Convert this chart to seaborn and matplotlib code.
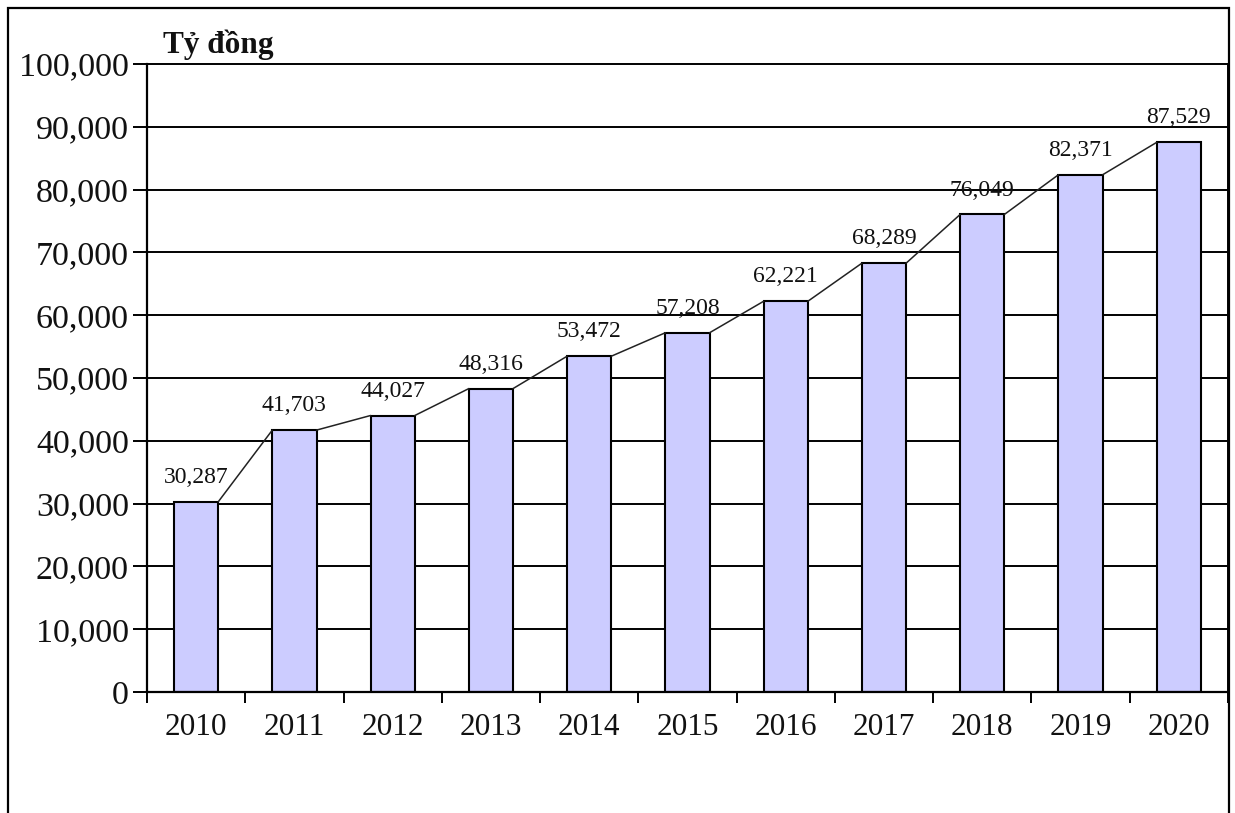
import numpy as np
import pandas as pd
import matplotlib
matplotlib.use("Agg")
import matplotlib.pyplot as plt
from matplotlib.patches import Rectangle
from matplotlib.ticker import FuncFormatter, FixedLocator
import seaborn as sns

years = ["2010", "2011", "2012", "2013", "2014", "2015",
         "2016", "2017", "2018", "2019", "2020"]
values = [30287, 41703, 44027, 48316, 53472, 57208,
          62221, 68289, 76049, 82371, 87529]
unit_label = "Tỷ đồng"

sns.set_theme(style="white")
plt.rcParams["font.family"] = ["Liberation Serif", "DejaVu Serif"]

df = pd.DataFrame({"year": years, "value": values})

fig = plt.figure(figsize=(12.35, 8.13), dpi=100)
ax = fig.add_axes([147 / 1235, 121 / 813, (1228 - 147) / 1235, (692 - 64) / 813])

bar_w = 0.45
sns.barplot(data=df, x="year", y="value", ax=ax, color="#CCCCFF",
            saturation=1, width=bar_w, edgecolor="black", linewidth=1.5,
            zorder=3)

ax.set_xlim(-0.5, len(years) - 0.5)
ax.set_ylim(0, 100000)
ax.set_yticks(np.arange(0, 100001, 10000))
ax.yaxis.set_major_formatter(FuncFormatter(lambda v, p: f"{int(v):,}"))
ax.grid(axis="y", color="black", linewidth=1.4, zorder=0)
ax.grid(axis="x", visible=False)
for gl in ax.get_ygridlines():
    gl.set_clip_on(False)

# series lines joining the top corners of neighbouring bars
for i in range(len(values) - 1):
    ax.plot([i + bar_w / 2, i + 1 - bar_w / 2], [values[i], values[i + 1]],
            color="#222222", linewidth=1.1, zorder=4)

# value labels above each bar
for i, v in enumerate(values):
    ax.annotate(f"{v:,}", (i, v), xytext=(0, 10), textcoords="offset points",
                ha="center", va="bottom", fontsize=17, color="#111111",
                zorder=5)

ax.set_xlabel("")
ax.set_ylabel("")
for side in ["top", "right"]:
    ax.spines[side].set_visible(False)
ax.spines["left"].set_color("black")
ax.spines["left"].set_linewidth(1.6)
ax.spines["bottom"].set_color("black")
ax.spines["bottom"].set_linewidth(1.6)
ax.spines["bottom"].set_zorder(6)

ax.tick_params(axis="y", which="major", length=10, width=1.4, color="black",
               labelsize=24.5, pad=3, left=True)
ax.tick_params(axis="x", which="major", length=0, labelsize=22.5, pad=15)
ax.xaxis.set_minor_locator(FixedLocator(np.arange(-0.5, len(years), 1.0)))
ax.tick_params(axis="x", which="minor", length=8, width=1.4, color="black",
               bottom=True)
for lbl in ax.get_xticklabels() + ax.get_yticklabels():
    lbl.set_color("#111111")

fig.text(163 / 1235, (813 - 53) / 813, unit_label, fontsize=22.5,
         fontweight="bold", ha="left", va="baseline", color="#111111")

# chart frame (open at the bottom edge of the figure)
fig.add_artist(Rectangle((8 / 1235, -0.05), (1229 - 8) / 1235,
                         (813 - 8) / 813 + 0.05, transform=fig.transFigure,
                         fill=False, edgecolor="black", linewidth=1.6))
fig.add_artist(plt.Line2D([1228 / 1235, 1228 / 1235], [121 / 813, 749 / 813],
                          transform=fig.transFigure, color="black",
                          linewidth=1.4))

fig.savefig("out.png", dpi=100)
